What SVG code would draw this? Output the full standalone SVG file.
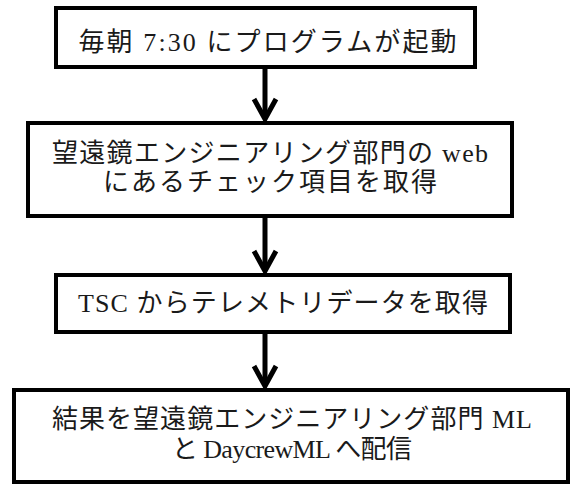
<svg xmlns="http://www.w3.org/2000/svg" width="573" height="484" viewBox="0 0 573 484">
<style>
.box{fill:#fff;stroke:#000;stroke-width:4}
.t{font-family:"Liberation Serif","Noto Sans CJK JP",serif;font-size:26px;fill:#1a1a1a;text-anchor:middle}
.c{stroke:#000;stroke-width:5;fill:none;stroke-linecap:butt;stroke-linejoin:miter}
</style>
<rect width="573" height="484" fill="#fff"/>
<g id="connectors">
<line class="c" x1="265" y1="68" x2="265" y2="118"/>
<polyline class="c" points="254,99 265,119 276,99"/>
<line class="c" x1="265" y1="218" x2="265" y2="270"/>
<polyline class="c" points="254,251 265,271 276,251"/>
<line class="c" x1="265" y1="334" x2="265" y2="385"/>
<polyline class="c" points="254,366 265,386 276,366"/>
</g>
<g id="node1">
<rect class="box" x="56" y="8" width="419" height="59"/>
<text class="t" x="267.5" y="51" textLength="378" lengthAdjust="spacing">毎朝 7:30 にプログラムが起動</text>
</g>
<g id="node2">
<rect class="box" x="28" y="123" width="484" height="93"/>
<text class="t" x="270" y="162" textLength="436" lengthAdjust="spacing">望遠鏡エンジニアリング部門の web</text>
<text class="t" x="270" y="191" textLength="334" lengthAdjust="spacing">にあるチェック項目を取得</text>
</g>
<g id="node3">
<rect class="box" x="56" y="275" width="454" height="57"/>
<text class="t" x="283" y="312" textLength="410" lengthAdjust="spacing">TSC からテレメトリデータを取得</text>
</g>
<g id="node4">
<rect class="box" x="14" y="390" width="554" height="92"/>
<text class="t" x="292" y="428" textLength="480" lengthAdjust="spacing">結果を望遠鏡エンジニアリング部門 ML</text>
<text class="t" x="292" y="458" textLength="240" lengthAdjust="spacing">と DaycrewML へ配信</text>
</g>
</svg>
